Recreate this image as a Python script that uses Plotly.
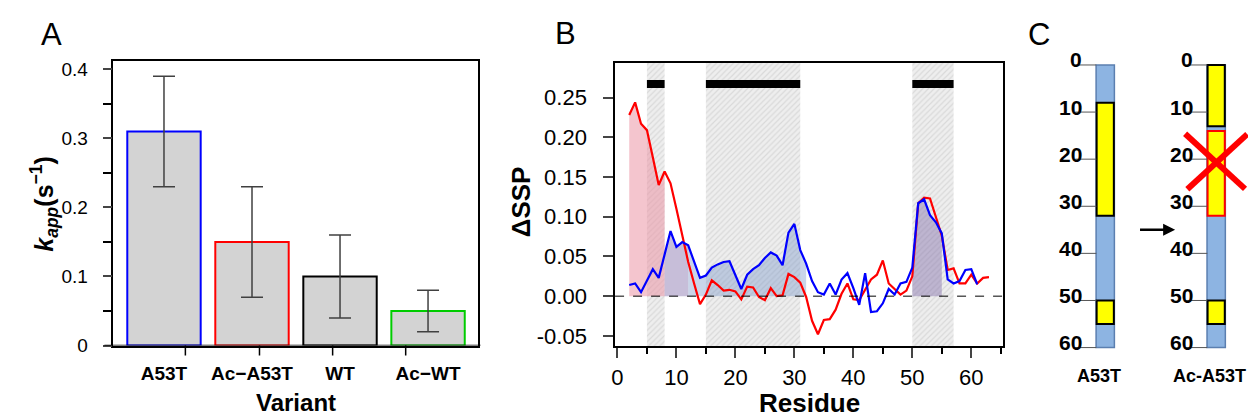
import plotly.graph_objects as go

W, H = 1256, 420
FONT = "Liberation Sans"

# ---------------- panel A data ----------------
variants = ["A53T", "Ac\u2212A53T", "WT", "Ac\u2212WT"]
kapp = [0.31, 0.15, 0.10, 0.05]
kapp_err_hi = [0.08, 0.08, 0.06, 0.03]
kapp_err_lo = [0.08, 0.08, 0.06, 0.03]
bar_edge = ["#0000FF", "#FF0000", "#000000", "#00CC00"]
a_tick_pos = [0.243, 1.085, 1.916, 2.746]   # R axis ticks, not aligned to bars

# ---------------- panel B data ----------------
res_red = list(range(2, 64))
dssp_red = [0.228, 0.244, 0.217, 0.209, 0.175, 0.140, 0.157, 0.142, 0.110, 0.076,
            0.043, 0.016, -0.010, 0.002, 0.020, 0.014, 0.007, 0.008, 0.006, -0.004,
            0.012, 0.011, -0.001, -0.005, 0.010, 0.000, 0.001, 0.028, 0.024, 0.017,
            -0.001, -0.031, -0.048, -0.030, -0.029, -0.017, 0.003, 0.016, -0.004, -0.005,
            0.009, 0.021, 0.027, 0.045, 0.016, 0.009, 0.002, 0.007, 0.025, 0.117,
            0.124, 0.123, 0.100, 0.076, 0.033, 0.035, 0.016, 0.016, 0.027, 0.016,
            0.023, 0.024]
res_blue = list(range(2, 62))
dssp_blue = [0.014, 0.016, 0.005, 0.019, 0.034, 0.023, 0.052, 0.082, 0.062, 0.068,
             0.064, 0.043, 0.023, 0.026, 0.036, 0.040, 0.043, 0.044, 0.027, 0.009,
             0.027, 0.034, 0.039, 0.048, 0.055, 0.051, 0.039, 0.080, 0.091, 0.058,
             0.041, 0.019, 0.005, 0.002, 0.016, 0.002, 0.021, 0.029, 0.010, -0.011,
             0.029, -0.020, -0.019, -0.009, 0.009, 0.002, 0.016, 0.018, 0.036, 0.117,
             0.122, 0.102, 0.093, 0.079, 0.021, 0.016, 0.019, 0.033, 0.034, 0.015]
helix_ranges = [(5, 8), (15, 31), (50, 57)]
# shaded areas under the curves: (first residue, last residue, curve, colour)
fill_ranges = [(2, 8, "red", "rgba(235,150,165,0.55)"),
               (8, 12, "blue", "rgba(130,110,170,0.45)"),
               (12, 32, "blue", "rgba(120,150,200,0.40)"),
               (50, 55, "blue", "rgba(130,110,170,0.45)")]
b_yrange = [-0.0627, 0.294]
b_yticks = [-0.05, 0.00, 0.05, 0.10, 0.15, 0.20, 0.25]

# ---------------- panel C data ----------------
c_columns = ["A53T", "Ac-A53T"]
c_length = 60
c_ticks = [0, 10, 20, 30, 40, 50, 60]
# helix segments per column: (start, end, outline)
c_segments = [[(8, 32, "black"), (50, 55, "black")],
              [(0, 13, "black"), (14, 32, "red"), (50, 55, "black")]]
cross_residue = 20.5


def px_x(p):
    return p / W


def px_y(p):
    return (H - p) / H


fig = go.Figure()

# ---- A: bars with error bars
fig.add_trace(go.Bar(
    x=list(range(len(variants))), y=kapp, width=0.834,
    marker=dict(color="#D3D3D3", line=dict(color=bar_edge, width=2)),
    error_y=dict(type="data", array=kapp_err_hi, arrayminus=kapp_err_lo,
                 color="#404040", thickness=1.5, width=11),
    xaxis="x", yaxis="y"))

# ---- B: hatched helix bands
for a, b in helix_ranges:
    fig.add_trace(go.Scatter(
        x=[a, b, b, a, a], y=[b_yrange[0], b_yrange[0], b_yrange[1], b_yrange[1], b_yrange[0]],
        mode="lines", line=dict(width=0), fill="toself", fillcolor="#ececec",
        fillpattern=dict(shape="/", bgcolor="#eeeeee", fgcolor="#c4c4c4", size=4, solidity=0.3),
        xaxis="x2", yaxis="y2", hoverinfo="skip"))

curves = {"red": (res_red, dssp_red), "blue": (res_blue, dssp_blue)}
for r0, r1, which, col in fill_ranges:
    rx, ry = curves[which]
    xs = [r for r in rx if r0 <= r <= r1]
    ys = [v for r, v in zip(rx, ry) if r0 <= r <= r1]
    fig.add_trace(go.Scatter(x=xs, y=ys, mode="lines", line=dict(width=0),
                             fill="tozeroy", fillcolor=col, xaxis="x2", yaxis="y2",
                             hoverinfo="skip"))

fig.add_trace(go.Scatter(x=res_red, y=dssp_red, mode="lines",
                         line=dict(color="#FF0000", width=2.2), xaxis="x2", yaxis="y2"))
fig.add_trace(go.Scatter(x=res_blue, y=dssp_blue, mode="lines",
                         line=dict(color="#0000FF", width=2.2), xaxis="x2", yaxis="y2"))

shapes = []
for a, b in helix_ranges:
    shapes.append(dict(type="rect", xref="x2", yref="y2", x0=a, x1=b, y0=0.262, y1=0.272,
                       fillcolor="black", line=dict(width=0)))
shapes.append(dict(type="line", xref="x2 domain", yref="y2", x0=0, x1=1, y0=0, y1=0,
                   line=dict(color="black", width=1, dash="dash")))
# A: R-style x ticks and baseline
for t in a_tick_pos:
    shapes.append(dict(type="line", xref="x", yref="paper", x0=t, x1=t,
                       y0=px_y(346.3), y1=px_y(356.5), line=dict(color="black", width=1.5)))
shapes.append(dict(type="line", xref="paper", yref="y", x0=px_x(92.7), x1=px_x(470),
                   y0=0, y1=0, line=dict(color="black", width=1.5)))

# ---- C: residue columns
for i, segs in enumerate(c_segments):
    fig.add_trace(go.Bar(x=[i], y=[c_length], base=[0], width=0.165,
                         marker=dict(color="#8DB4E2", line=dict(color="#5B7FB0", width=1.5)),
                         xaxis="x3", yaxis="y3"))
    for s, e, edge in segs:
        fig.add_trace(go.Bar(x=[i], y=[e - s], base=[s], width=0.155,
                             marker=dict(color="#FFFF00", line=dict(color=edge, width=2)),
                             xaxis="x3", yaxis="y3"))
    lx, ly = [], []
    for t in c_ticks:
        lx += [i - 0.27, i - 0.08, None]
        ly += [t, t, None]
    fig.add_trace(go.Scatter(x=lx, y=ly, mode="lines", line=dict(color="#555555", width=1),
                             xaxis="x3", yaxis="y3"))

# red cross over the disrupted helix
fig.add_trace(go.Scatter(x=[1 - 0.28, 1 + 0.26, None, 1 + 0.28, 1 - 0.26],
                         y=[cross_residue - 5.9, cross_residue + 5.8, None,
                            cross_residue - 5.8, cross_residue + 5.9],
                         mode="lines", line=dict(color="#FF0000", width=6),
                         xaxis="x3", yaxis="y3"))

ann = []
for i, name in enumerate(c_columns):
    for t in c_ticks:
        ann.append(dict(x=i - 0.19, y=t, xref="x3", yref="y3", text="<b>%d</b>" % t,
                        showarrow=False, xanchor="right", yanchor="middle", yshift=5,
                        font=dict(size=21, color="black")))
    ann.append(dict(x=i - 0.06, y=px_y(378), xref="x3", yref="paper", text="<b>%s</b>" % name,
                    showarrow=False, xanchor="center", yanchor="middle",
                    font=dict(size=18, color="black")))
ann.append(dict(x=0.63, y=35, ax=0.30, ay=35, xref="x3", yref="y3", axref="x3", ayref="y3",
                text="", showarrow=True, arrowhead=2, arrowsize=1, arrowwidth=2.4,
                arrowcolor="black"))

# panel letters and axis titles
ann += [
    dict(x=px_x(40), y=px_y(25), text="A", font=dict(size=31)),
    dict(x=px_x(555), y=px_y(24), text="B", font=dict(size=31)),
    dict(x=px_x(1030), y=px_y(25), text="C", font=dict(size=31)),
    dict(x=px_x(32), y=px_y(200), textangle=-90,
         text="<b><i>k</i><sub><i>app</i></sub>(s<sup>\u22121</sup>)</b>", font=dict(size=25)),
    dict(x=px_x(285), y=px_y(405), text="<b>Variant</b>", font=dict(size=24)),
    dict(x=px_x(510), y=px_y(198), textangle=-90, text="<b>\u0394SSP</b>", font=dict(size=26)),
    dict(x=px_x(800), y=px_y(406), text="<b>Residue</b>", font=dict(size=26)),
]
for a in ann:
    if "xref" not in a:
        a.update(xref="paper", yref="paper", showarrow=False,
                 xanchor="center", yanchor="middle")
    a.setdefault("font", {})
    a["font"].setdefault("color", "black")

box = dict(showline=True, mirror=True, linecolor="black", linewidth=1.5,
           showgrid=False, zeroline=False)

fig.update_layout(
    width=W, height=H, margin=dict(l=0, r=0, t=0, b=0),
    paper_bgcolor="white", plot_bgcolor="white", showlegend=False,
    barmode="overlay", font=dict(family=FONT, color="black"),
    xaxis=dict(domain=[px_x(101.7), px_x(467.7)], range=[-0.575, 3.57], anchor="y",
               tickmode="array", tickvals=list(range(len(variants))),
               ticktext=["<b>%s</b>" % v for v in variants],
               ticks="outside", ticklen=10, tickcolor="rgba(0,0,0,0)",
               tickfont=dict(size=19), **box),
    yaxis=dict(domain=[px_y(346.3), px_y(52.7)], range=[0, 0.4118], anchor="x",
               tick0=0, dtick=0.1, ticks="outside", ticklen=9, tickwidth=1.5,
               ticklabelstandoff=11,
               minor=dict(dtick=0.05, ticks="outside", ticklen=9, tickwidth=1.5,
                          tickcolor="black"),
               tickfont=dict(size=19), **box),
    xaxis2=dict(domain=[px_x(605), px_x(994.3)], range=[-0.4, 65.4], anchor="y2",
                tick0=0, dtick=10, ticks="outside", ticklen=10, tickwidth=1.5,
                minor=dict(dtick=5, ticks="outside", ticklen=6, tickwidth=1.5,
                           tickcolor="black"),
                ticklabelstandoff=1, tickfont=dict(size=22), **box),
    yaxis2=dict(domain=[px_y(346.7), px_y(54.3)], range=b_yrange, anchor="x2",
                tickmode="array", tickvals=b_yticks, ticktext=["%.2f" % v for v in b_yticks],
                ticks="outside", ticklen=10, tickwidth=1.5, ticklabelstandoff=12,
                tickfont=dict(size=22), **box),
    xaxis3=dict(domain=[0.8, 1.0], range=[-0.826, 1.431], anchor="y3", visible=False),
    yaxis3=dict(domain=[0.1, 0.95], range=[66.1, -7.35], anchor="x3", visible=False),
    shapes=shapes, annotations=ann,
)

fig.write_html("out.html")
